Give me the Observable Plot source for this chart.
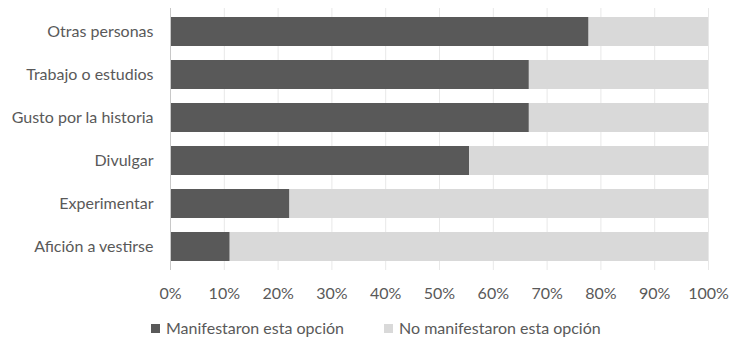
<!DOCTYPE html>
<html>
<head>
<meta charset="utf-8">
<script src="https://cdn.jsdelivr.net/npm/d3@7"></script>
<script src="https://cdn.jsdelivr.net/npm/@observablehq/plot@0.6"></script>
<style>
  body { margin: 0; background: #fff; font-family: Lato, sans-serif; }
  #wrap { position: relative; width: 729px; height: 339px; }
  #legend { position: absolute; top: 318px; left: 0; width: 729px; font-size: 16px; color: #595959; }
  .item { position: absolute; display: flex; align-items: center; white-space: nowrap; line-height: 20px; }
  .sw { width: 9px; height: 9px; margin-right: 6px; }
</style>
</head>
<body>
<div id="wrap">
  <div id="chart"></div>
  <div id="legend"></div>
</div>
<script>
// Motivos, de arriba abajo
const categories = [
  "Otras personas",
  "Trabajo o estudios",
  "Gusto por la historia",
  "Divulgar",
  "Experimentar",
  "Afición a vestirse"
];
// Porcentaje de cada respuesta por motivo
const manifestaron = [77.8, 66.7, 66.7, 55.6, 22.2, 11.1];
const noManifestaron = [22.2, 33.3, 33.3, 44.4, 77.8, 88.9];
const series = ["Manifestaron esta opción", "No manifestaron esta opción"];
const colors = ["#595959", "#d9d9d9"];
const xTicks = [0, 10, 20, 30, 40, 50, 60, 70, 80, 90, 100];

const rows = [];
categories.forEach((c, i) => {
  rows.push({ motivo: c, serie: series[0], valor: manifestaron[i] });
  rows.push({ motivo: c, serie: series[1], valor: noManifestaron[i] });
});

const chart = Plot.plot({
  width: 729,
  height: 305,
  marginLeft: 170,
  marginRight: 21,
  marginTop: 8,
  marginBottom: 35,
  style: { fontFamily: "Lato, sans-serif", fontSize: "16px", color: "#595959" },
  x: { domain: [0, 100], label: null },
  y: { domain: categories, paddingInner: 0.336, paddingOuter: 0.168, label: null },
  color: { domain: series, range: colors },
  marks: [
    Plot.gridX(xTicks, { stroke: "#e8e8e8", strokeOpacity: 1 }),
    Plot.barX(rows, Plot.stackX({
      y: "motivo", x: "valor", fill: "serie", order: series
    })),
    Plot.ruleX([0], { stroke: "#c8c8c8" }),
    Plot.axisX(xTicks, {
      tickSize: 0, tickPadding: 17, tickFormat: d => d + "%",
      fill: "#595959", fontSize: 16, label: null
    }),
    Plot.axisY({
      tickSize: 0, tickPadding: 17, label: null,
      fill: "#595959", fontSize: 16
    })
  ]
});
document.getElementById("chart").appendChild(chart);

// Leyenda
const legend = document.getElementById("legend");
const lefts = [151, 384];
series.forEach((s, i) => {
  const item = document.createElement("div");
  item.className = "item";
  item.style.left = lefts[i] + "px";
  const sw = document.createElement("span");
  sw.className = "sw";
  sw.style.background = colors[i];
  item.appendChild(sw);
  item.appendChild(document.createTextNode(s));
  legend.appendChild(item);
});
</script>
</body>
</html>
